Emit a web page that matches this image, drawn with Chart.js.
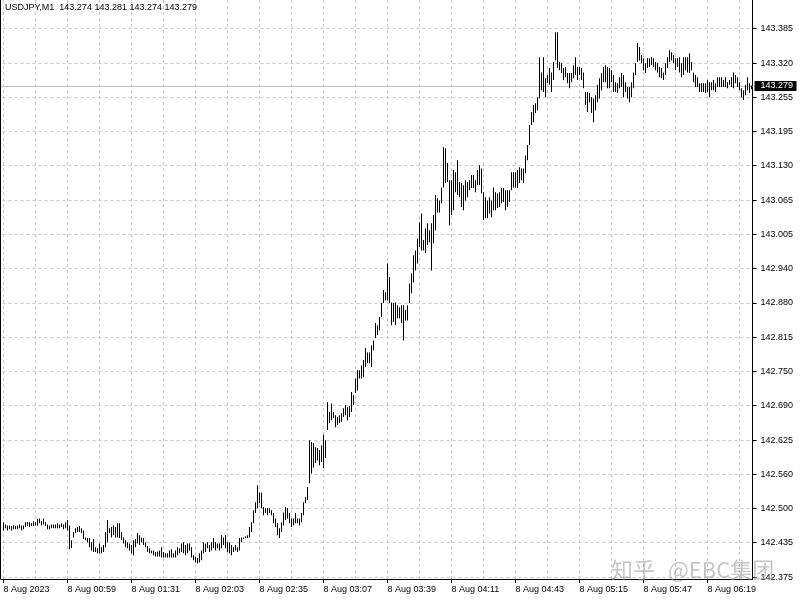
<!DOCTYPE html>
<html>
<head>
<meta charset="utf-8">
<script src="https://cdn.jsdelivr.net/npm/chart.js@4.4.1/dist/chart.umd.min.js"></script>
<style>
  html, body { margin: 0; padding: 0; background: #fff; }
  canvas { display: block; }
</style>
</head>
<body>
<canvas id="chart" width="800" height="600"></canvas>
<script>
// USDJPY M1, 8 Aug 2023 from 00:27, one bar per minute (high / low)
const symbol = 'USDJPY,M1';
const lastOhlc = ['143.274', '143.281', '143.274', '143.279'];
const bidPrice = 143.279;
const bidLabel = '143.279';

const timeLabels = ['8 Aug 2023', '8 Aug 00:59', '8 Aug 01:31', '8 Aug 02:03', '8 Aug 02:35', '8 Aug 03:07',
  '8 Aug 03:39', '8 Aug 04:11', '8 Aug 04:43', '8 Aug 05:15', '8 Aug 05:47', '8 Aug 06:19'];

const priceLabels = ['143.385', '143.320', '143.255', '143.195', '143.130', '143.065', '143.005', '142.940',
  '142.880', '142.815', '142.750', '142.690', '142.625', '142.560', '142.500', '142.435', '142.375'];

const highs = [
  142.476,142.472,142.470,142.470,142.469,142.470,142.469,142.470,142.472,142.470,
  142.470,142.476,142.476,142.476,142.474,142.478,142.476,142.482,142.483,142.478,
  142.483,142.476,142.472,142.470,142.472,142.472,142.472,142.474,142.472,142.474,
  142.472,142.476,142.480,142.470,142.443,142.458,142.465,142.467,142.469,142.465,
  142.461,142.448,142.447,142.447,142.439,142.445,142.430,142.428,142.437,142.430,
  142.434,142.458,142.480,142.465,142.467,142.470,142.467,142.474,142.474,142.458,
  142.448,142.443,142.439,142.437,142.434,142.443,142.445,142.456,142.452,142.448,
  142.447,142.439,142.432,142.428,142.424,142.424,142.421,142.422,142.424,142.430,
  142.421,142.419,142.419,142.424,142.426,142.419,142.424,142.430,142.428,142.437,
  142.439,142.434,142.437,142.437,142.430,142.415,142.413,142.410,142.419,142.424,
  142.439,142.437,142.439,142.434,142.439,142.447,142.439,142.437,142.437,142.452,
  142.448,142.452,142.439,142.439,142.434,142.430,142.434,142.430,142.447,142.448,
  142.448,142.450,142.452,142.467,142.476,142.498,142.513,142.544,142.531,142.531,
  142.504,142.502,142.502,142.502,142.498,142.493,142.483,142.474,142.465,142.476,
  142.494,142.504,142.502,142.493,142.483,142.483,142.493,142.483,142.483,142.493,
  142.513,142.522,142.541,142.627,142.624,142.622,142.614,142.613,142.609,142.618,
  142.637,142.627,142.697,142.679,142.695,142.679,142.673,142.670,142.673,142.677,
  142.686,142.692,142.688,142.690,142.716,142.710,142.741,142.756,142.756,142.765,
  142.775,142.797,142.789,142.789,142.802,142.811,142.843,142.839,142.854,142.880,
  142.904,142.900,142.953,142.928,142.881,142.880,142.881,142.876,142.872,142.876,
  142.876,142.867,142.876,142.916,142.935,142.968,142.977,142.999,143.029,143.045,
  142.996,143.018,143.027,143.014,143.027,143.042,143.079,143.073,143.069,143.093,
  143.167,143.165,143.138,143.106,143.106,143.125,143.121,143.143,143.103,143.101,
  143.097,143.106,143.103,143.106,143.116,143.116,143.106,143.125,143.134,143.128,
  143.084,143.075,143.069,143.075,143.069,143.093,143.084,143.082,143.084,143.092,
  143.092,143.088,143.088,143.088,143.121,143.121,143.121,143.125,143.130,143.128,
  143.128,143.152,143.171,143.208,143.232,143.245,143.248,143.259,143.333,143.305,
  143.333,143.294,143.300,143.313,143.305,143.324,143.379,143.379,143.324,143.322,
  143.313,143.315,143.304,143.304,143.304,143.318,143.333,143.315,143.315,143.313,
  143.305,143.269,143.269,143.267,143.259,143.257,143.263,143.282,143.294,143.304,
  143.315,143.318,143.315,143.313,143.309,143.300,143.287,143.285,143.296,143.304,
  143.300,143.287,143.278,143.278,143.287,143.305,143.322,143.359,143.352,143.337,
  143.331,143.322,143.331,143.331,143.333,143.331,143.324,143.322,143.315,143.313,
  143.305,143.322,143.333,143.346,143.342,143.337,143.331,143.331,143.333,143.322,
  143.333,143.333,143.333,143.340,143.324,143.305,143.300,143.296,143.285,143.285,
  143.285,143.285,143.291,143.287,143.287,143.291,143.285,143.296,143.296,143.296,
  143.291,143.296,143.287,143.291,143.296,143.305,143.300,143.296,143.287,143.276,
  143.272,143.282,143.296,143.285,143.281
];

const lows = [
  142.461,142.465,142.461,142.463,142.461,142.463,142.463,142.463,142.465,142.461,
  142.463,142.467,142.469,142.467,142.469,142.469,142.470,142.470,142.474,142.470,
  142.472,142.469,142.463,142.463,142.465,142.465,142.465,142.465,142.465,142.467,
  142.463,142.465,142.461,142.426,142.428,142.448,142.456,142.458,142.458,142.456,
  142.445,142.443,142.439,142.430,142.424,142.421,142.421,142.419,142.419,142.419,
  142.421,142.430,142.439,142.456,142.448,142.452,142.448,142.448,142.447,142.443,
  142.437,142.430,142.428,142.424,142.419,142.415,142.430,142.437,142.434,142.439,
  142.434,142.430,142.421,142.419,142.419,142.415,142.413,142.413,142.413,142.411,
  142.411,142.411,142.411,142.411,142.411,142.411,142.411,142.415,142.419,142.421,
  142.419,142.415,142.419,142.424,142.411,142.406,142.402,142.400,142.402,142.406,
  142.419,142.421,142.428,142.421,142.424,142.428,142.424,142.428,142.424,142.428,
  142.434,142.428,142.421,142.419,142.415,142.421,142.424,142.421,142.424,142.439,
  142.445,142.447,142.447,142.448,142.458,142.474,142.493,142.502,142.511,142.502,
  142.489,142.493,142.489,142.493,142.489,142.474,142.467,142.452,142.447,142.458,
  142.470,142.480,142.483,142.474,142.467,142.470,142.474,142.474,142.470,142.476,
  142.489,142.511,142.517,142.548,142.566,142.577,142.585,142.590,142.581,142.587,
  142.576,142.594,142.646,142.659,142.664,142.668,142.651,142.655,142.659,142.661,
  142.670,142.673,142.664,142.670,142.679,142.692,142.714,142.719,142.741,142.741,
  142.743,142.762,142.769,142.769,142.762,142.793,142.815,142.821,142.830,142.854,
  142.880,142.885,142.885,142.880,142.839,142.845,142.839,142.852,142.852,142.843,
  142.811,142.848,142.848,142.880,142.898,142.918,142.940,142.953,142.983,142.977,
  142.977,142.972,142.987,142.992,142.940,142.990,143.014,143.047,143.047,143.064,
  143.093,143.101,143.103,143.023,143.042,143.051,143.084,143.079,143.075,143.057,
  143.051,143.069,143.075,143.088,143.092,143.092,143.084,143.097,143.097,143.082,
  143.033,143.036,143.036,143.045,143.038,143.051,143.051,143.055,143.057,143.064,
  143.066,143.051,143.057,143.066,143.088,143.093,143.093,143.092,143.101,143.106,
  143.101,143.119,143.143,143.171,143.208,143.213,143.230,143.235,143.257,143.272,
  143.269,143.259,143.285,143.282,143.269,143.291,143.327,143.313,143.309,143.304,
  143.291,143.296,143.285,143.276,143.287,143.294,143.300,143.291,143.300,143.291,
  143.276,143.245,143.232,143.250,143.230,143.213,143.235,143.250,143.257,143.272,
  143.287,143.287,143.276,143.276,143.287,143.269,143.269,143.267,143.276,143.278,
  143.259,143.269,143.257,143.250,143.259,143.276,143.300,143.324,143.327,143.322,
  143.309,143.304,143.313,143.315,143.318,143.315,143.309,143.305,143.296,143.294,
  143.291,143.300,143.313,143.324,143.327,143.322,143.309,143.315,143.305,143.296,
  143.300,143.309,143.305,143.304,143.309,143.287,143.278,143.278,143.269,143.269,
  143.269,143.267,143.269,143.259,143.272,143.272,143.269,143.278,143.278,143.278,
  143.278,143.278,143.276,143.282,143.278,143.276,143.285,143.278,143.272,143.259,
  143.254,143.263,143.272,143.267,143.274
];

// minute categories, first bar 00:27
const firstMinute = 27;
const minutes = highs.map((h, i) => {
  const m = firstMinute + i;
  return String(Math.floor(m / 60)).padStart(2, '0') + ':' + String(m % 60).padStart(2, '0');
});

const priceMax = 143.4384;
const priceMin = 142.3714;
const labelEvery = 32;
const gridEvery = 16;

const font = { family: '"Liberation Sans", Arial, sans-serif', size: 9 };
const gridColor = '#c8c8c8';

// frame line, bid line + label, header text, watermark
const overlay = {
  id: 'overlay',
  beforeDatasetsDraw(chart) {
    const { ctx, chartArea, scales } = chart;
    const y = Math.round(scales.y.getPixelForValue(bidPrice)) + 0.5;
    ctx.save();
    ctx.strokeStyle = '#c0c0c0';
    ctx.lineWidth = 1;
    ctx.beginPath();
    ctx.moveTo(0, y);
    ctx.lineTo(chartArea.right, y);
    ctx.stroke();
    ctx.restore();
  },
  afterDraw(chart) {
    const { ctx, chartArea, scales } = chart;
    ctx.save();
    ctx.strokeStyle = '#000';
    ctx.lineWidth = 1;
    ctx.beginPath();
    ctx.moveTo(0.5, 0);
    ctx.lineTo(0.5, chartArea.bottom + 0.5);
    ctx.lineTo(chartArea.left + 1, chartArea.bottom + 0.5);
    ctx.stroke();

    ctx.font = font.size + 'px ' + font.family;
    ctx.fillStyle = '#000';
    ctx.textBaseline = 'alphabetic';
    ctx.fillText(symbol + '  ' + lastOhlc.join(' '), 5, 10);

    const y = Math.round(scales.y.getPixelForValue(bidPrice));
    ctx.fillRect(chartArea.right + 2, y - 5, 42, 10);
    ctx.fillStyle = '#fff';
    ctx.textBaseline = 'middle';
    ctx.fillText(bidLabel, chartArea.right + 8, y);

    ctx.font = '22px "Noto Sans CJK SC", sans-serif';
    ctx.fillStyle = 'rgba(150, 150, 150, 0.55)';
    ctx.textBaseline = 'alphabetic';
    ctx.fillText('知乎', 611, 578);
    ctx.fillText('@EBC集团', 668, 578);
    ctx.restore();
  }
};

new Chart(document.getElementById('chart'), {
  type: 'bar',
  data: {
    labels: minutes,
    datasets: [{
      data: lows.map((l, i) => [l, highs[i]]),
      backgroundColor: '#000',
      borderWidth: 0,
      barThickness: 1,
      inflateAmount: 0
    }]
  },
  options: {
    responsive: false,
    animation: false,
    events: [],
    layout: { padding: { left: 2.5, top: 0, right: 0, bottom: 0 } },
    plugins: { legend: { display: false }, tooltip: { enabled: false } },
    scales: {
      x: {
        offset: true,
        grid: {
          color: gridColor,
          offset: false,
          tickLength: 4,
          tickColor: c => (c.tick && c.tick.value % labelEvery === 0) ? '#000' : 'rgba(0,0,0,0)'
        },
        border: { display: true, color: '#000', dash: [3, 3] },
        ticks: {
          autoSkip: false,
          maxRotation: 0,
          align: 'start',
          padding: 1,
          color: '#000',
          font: font,
          callback: v => v % labelEvery === 0 ? timeLabels[v / labelEvery] : ''
        },
        afterBuildTicks: s => { s.ticks = s.ticks.filter(t => t.value % gridEvery === 0); },
        afterFit: s => { s.height = 21; s.paddingLeft = 0; s.paddingRight = 0; }
      },
      y: {
        position: 'right',
        min: priceMin,
        max: priceMax,
        beginAtZero: false,
        grid: { color: gridColor, tickLength: 4, tickColor: '#000' },
        border: { display: true, color: '#000', dash: [3, 3] },
        ticks: {
          padding: 4,
          color: '#000',
          font: font,
          callback: (v, i) => priceLabels[i]
        },
        afterBuildTicks: s => {
          const first = parseFloat(priceLabels[0]);
          const last = parseFloat(priceLabels[priceLabels.length - 1]);
          const step = (first - last) / (priceLabels.length - 1);
          s.ticks = priceLabels.map((p, k) => ({ value: first - k * step }));
        },
        afterFit: s => { s.width = 47.5; s.paddingTop = 0; s.paddingBottom = 0; }
      }
    }
  },
  plugins: [overlay]
});
</script>
</body>
</html>
